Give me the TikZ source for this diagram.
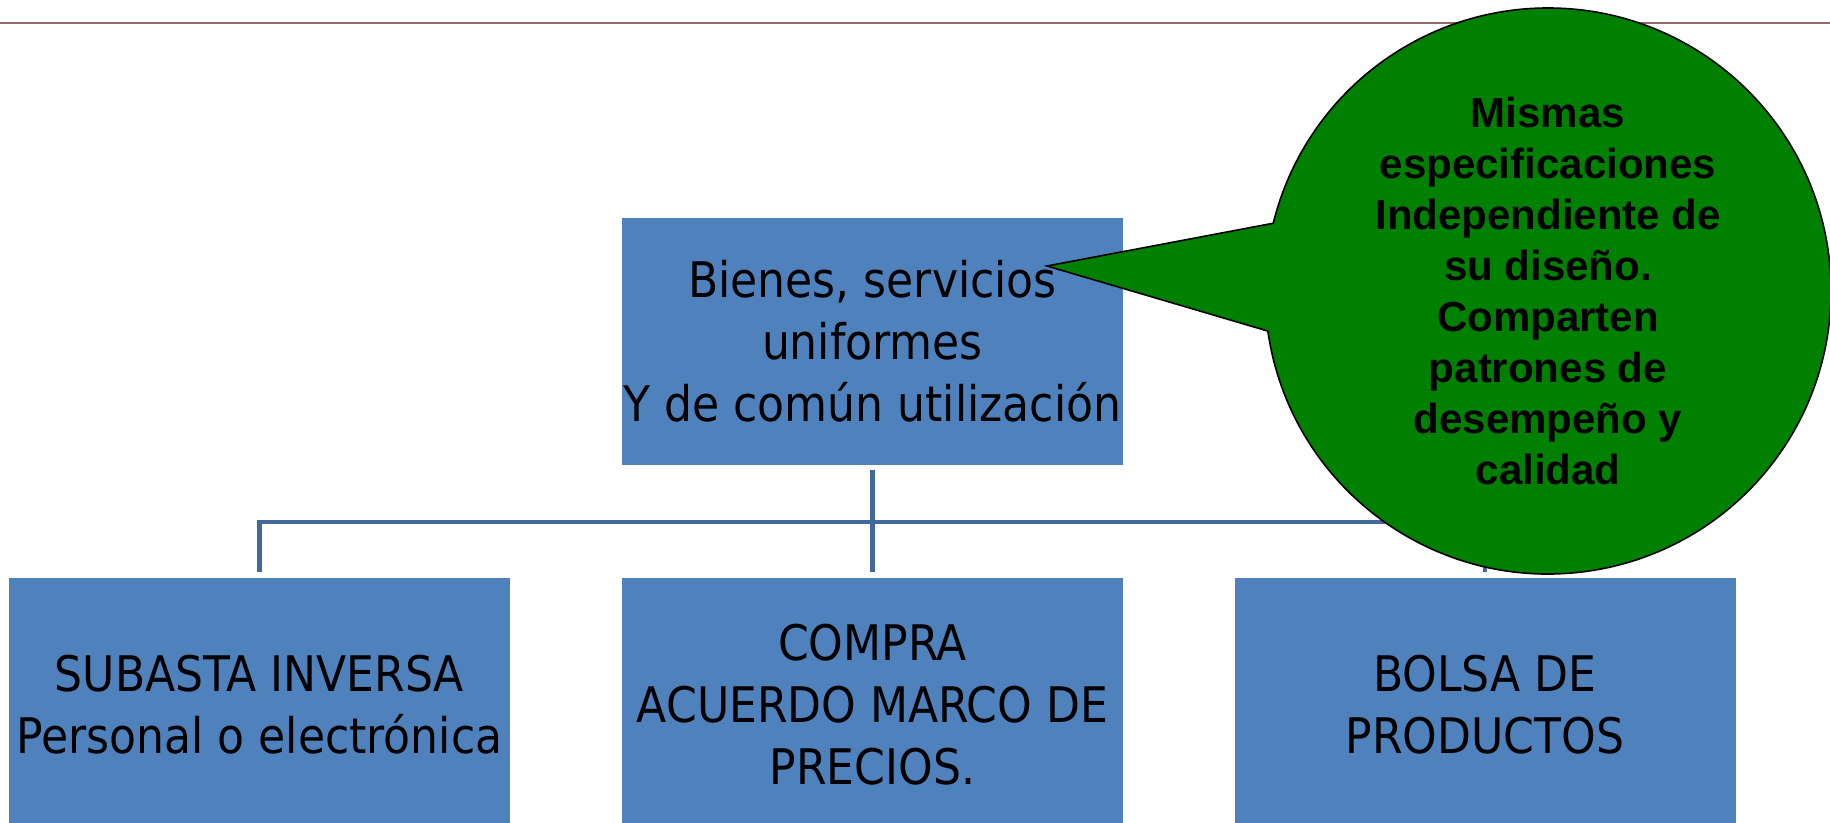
\documentclass[tikz,border=0pt]{standalone}
\usepackage{fontspec}
\setmainfont{DejaVu Sans Condensed}
\newfontfamily\notafont{Liberation Sans}
\usetikzlibrary{positioning,shapes.callouts}
\definecolor{cajaazul}{RGB}{79,129,189}
\definecolor{lineaazul}{RGB}{65,105,155}
\definecolor{verde}{RGB}{0,128,0}
\definecolor{regla}{RGB}{150,105,100}

\begin{document}
\begin{tikzpicture}[x=0.5pt,y=-0.5pt,
  bloque/.style={fill=cajaazul,minimum width=250.5pt,align=center,inner sep=0pt,font=\fontsize{24.5}{31}\selectfont},
  conn/.style={draw=lineaazul,line width=2.4pt},
  globo/.style={ellipse callout,fill=verde,draw=black,line width=0.8pt,minimum width=283pt,minimum height=283pt,inner sep=0pt,callout pointer arc=22}]
\useasboundingbox (0,0) rectangle (1830,823);
\clip (0,0) rectangle (1830,823);
\draw[regla,line width=1pt] (0,23) -- (1830,23);
\node[bloque,minimum height=123.5pt] (raiz) at (872.5,341.5) {Bienes, servicios\\uniformes\\Y de común utilización};
\node[bloque,minimum height=127pt] (subasta) at (259.5,705) {SUBASTA INVERSA\\Personal o electrónica};
\node[bloque,minimum height=127pt] (acuerdo) at (872.5,705) {COMPRA\\ACUERDO MARCO DE\\PRECIOS.};
\node[bloque,minimum height=127pt] (bolsa) at (1485,705) {BOLSA DE\\PRODUCTOS};
\coordinate (bus) at (872.5,522);
\draw[conn] ([yshift=-2.5pt]raiz.south) -- ([yshift=3pt]acuerdo.north);
\draw[conn] ([yshift=3pt]subasta.north) |- (bus) -| ([yshift=3pt]bolsa.north);
\node[globo,callout absolute pointer={(1047,266)}] (nota) at (1548,291) {};
\node[align=center,font=\notafont\bfseries\fontsize{21}{25.5}\selectfont] (notatxt) at (nota.center) {Mismas\\especificaciones\\Independiente de\\su diseño.\\Comparten\\patrones de\\desempeño y\\calidad};
\end{tikzpicture}
\end{document}
